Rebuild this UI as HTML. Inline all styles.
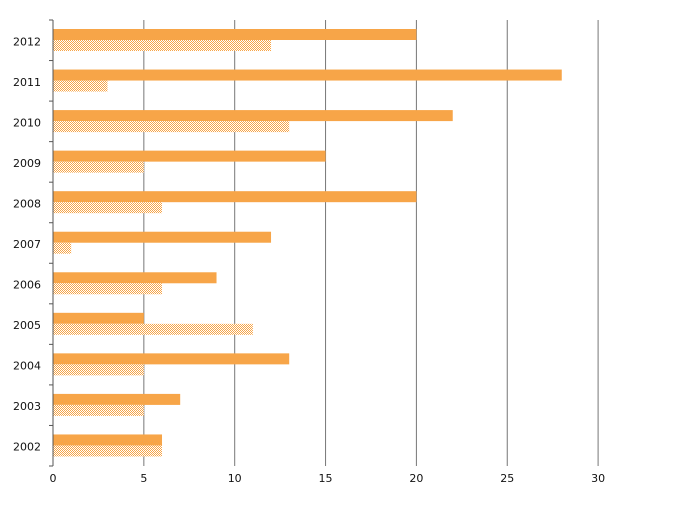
<!DOCTYPE html>
<html><head><meta charset="utf-8"><style>
body{margin:0;background:#fff;font-family:"Liberation Sans","DejaVu Sans",sans-serif}
svg text{font-family:"DejaVu Sans","Liberation Sans",sans-serif;font-size:11px;fill:#111}
</style></head><body>
<svg id="chart" width="675" height="503" viewBox="0 0 675 503">
<defs>
<pattern id="hatch" width="2" height="2" patternUnits="userSpaceOnUse">
<rect width="2" height="2" fill="#fff"/>
<rect width="1" height="1" fill="#f7a548"/>
<rect x="1" y="1" width="1" height="1" fill="#f7a548"/>
</pattern>
</defs>
<g id="grid"></g><g id="bars"></g><g id="axes"></g>
</svg>
<script>
const categories=["2002","2003","2004","2005","2006","2007","2008","2009","2010","2011","2012"];
const seriesA=[6,7,13,5,9,12,20,15,22,28,20];
const seriesB=[6,5,5,11,6,1,6,5,13,3,12];
const xTicks=[0,5,10,15,20,25,30];
const ns="http://www.w3.org/2000/svg";
const X0=53,PX=18.17,TOP=20,BOT=466;
const band=(BOT-TOP)/categories.length;
const xs=v=>X0+v*PX;
const bandTop=i=>BOT-(i+1)*band;
function mk(t,a,p){const e=document.createElementNS(ns,t);for(const k in a)e.setAttribute(k,a[k]);p.appendChild(e);return e;}
const grid=document.getElementById('grid'),bars=document.getElementById('bars'),axes=document.getElementById('axes');
xTicks.forEach(t=>{
 if(t>0){const l=mk('line',{x1:xs(t),x2:xs(t),y1:TOP,y2:BOT,stroke:'#777','stroke-width':1},grid);
 
 }
 const tx=mk('text',{x:xs(t),y:482,'text-anchor':'middle','font-size':'10'},axes);tx.textContent=t;
 
 
});
categories.forEach((c,i)=>{
 const y=bandTop(i);
 const a=mk('rect',{x:X0,y:y+9,width:xs(seriesA[i])-X0,height:11,fill:'#f7a548'},bars);
 
 
 const b=mk('rect',{x:X0,y:y+20,width:xs(seriesB[i])-X0,height:11,fill:'url(#hatch)'},bars);
 
 
 const tx=mk('text',{x:41,y:y+band/2+5,'text-anchor':'end','font-size':'12'},axes);tx.textContent=c;
 
 
});
const ax=mk('line',{x1:X0,x2:X0,y1:TOP,y2:BOT,stroke:'#555','stroke-width':1},axes);


for(let i=0;i<=categories.length;i++){
 const y=BOT-i*band;
 const tk=mk('line',{x1:X0-4,x2:X0,y1:y,y2:y,stroke:'#555','stroke-width':1},axes);
 
 
}
</script>
</body></html>
